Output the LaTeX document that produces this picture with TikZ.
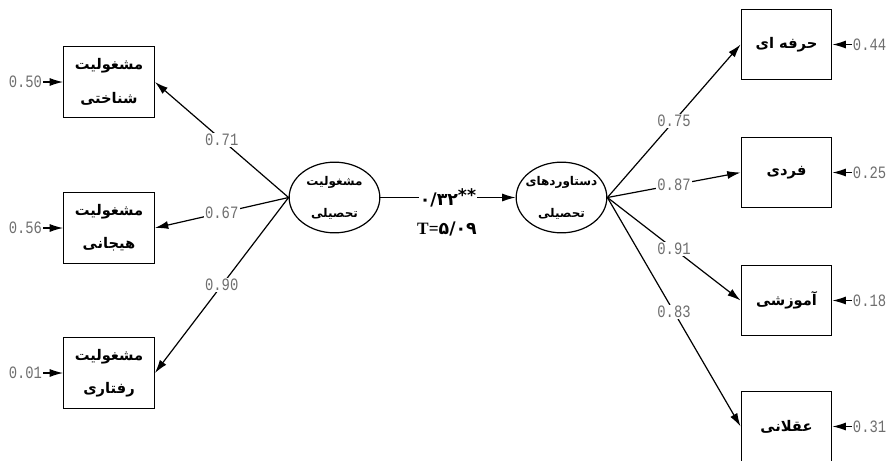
\documentclass[tikz,border=0pt]{standalone}
\usepackage{fontspec}
\usetikzlibrary{arrows.meta,shapes.geometric}
\TeXXeTstate=1
\newfontfamily\arabicfont[Script=Arabic]{DejaVu Sans}
\newfontfamily\labfont[FakeStretch=0.8]{Liberation Mono}
\newfontfamily\serifb{Liberation Serif}
\definecolor{labgray}{RGB}{110,110,110}
\begin{document}
\begin{tikzpicture}[x=0.75pt,y=-0.75pt,
  obs/.style={draw, line width=0.9pt, minimum width=68pt, minimum height=53pt, inner sep=0pt, align=center,
    font=\arabicfont\bfseries\fontsize{11}{25}\selectfont},
  lat/.style={draw, ellipse, line width=0.9pt, minimum width=68pt, minimum height=53pt, inner sep=0pt},
  lattext/.style={inner sep=0pt, align=center, font=\arabicfont\bfseries\fontsize{9}{24}\selectfont},
  path/.style={line width=0.9pt, -{Latex[length=10pt,width=6pt]}},
  coef/.style={fill=white, inner sep=1pt, text=labgray, font=\labfont\fontsize{13}{14}\selectfont},
  err/.style={inner sep=0.5pt, text=labgray, font=\labfont\fontsize{13}{14}\selectfont}]
\useasboundingbox (0,0) rectangle (890,461);

% latent variables
\node[lat] (eL) at (334.5,197.5) {};
\node[lattext] (eLt) at (eL) {\beginR مشغولیت\endR\\\beginR تحصیلی\endR};
\node[lat] (eR) at (561.5,197.5) {};
\node[lattext] (eRt) at (eR) {\beginR دستاوردهای\endR\\\beginR تحصیلی\endR};

% left observed
\node[obs] (b1) at (109,82)  {\beginR مشغولیت\endR\\\beginR شناختی\endR};
\node[obs] (b2) at (109,228) {\beginR مشغولیت\endR\\\beginR هیجانی\endR};
\node[obs] (b3) at (109,373) {\beginR مشغولیت\endR\\\beginR رفتاری\endR};

% right observed
\node[obs] (r1) at (786.5,44.5)  {\beginR حرفه ای\endR};
\node[obs] (r2) at (786.5,172.5) {\beginR فردی\endR};
\node[obs] (r3) at (786.5,300.5) {\beginR آموزشی\endR};
\node[obs] (r4) at (786.5,426.5) {\beginR عقلانی\endR};

% error terms
\node[err, anchor=east] (d1) at (43,82)  {0.50};
\node[err, anchor=east] (d2) at (43,228) {0.56};
\node[err, anchor=east] (d3) at (43,373) {0.01};
\node[err, anchor=west] (f1) at (852,44.5)  {0.44};
\node[err, anchor=west] (f2) at (852,172.5) {0.25};
\node[err, anchor=west] (f3) at (852,300.5) {0.18};
\node[err, anchor=west] (f4) at (852,426.5) {0.31};

\foreach \a/\b in {d1/b1,d2/b2,d3/b3,f1/r1,f2/r2,f3/r3,f4/r4}
  \draw[path] (\a) -- (\b);

% loadings
\draw[path] (eL.west) -- node[coef] {0.71} (b1.east);
\draw[path] (eL.west) -- node[coef] {0.67} (b2.east);
\draw[path] (eL.west) -- node[coef] {0.90} (b3.east);
\draw[path] (eR.east) -- node[coef] {0.75} (r1.west);
\draw[path] (eR.east) -- node[coef] {0.87} (r2.west);
\draw[path] (eR.east) -- node[coef] {0.91} (r3.west);
\draw[path] (eR.east) -- node[coef] {0.83} (r4.west);

% structural path
\draw[path] (eL.east) -- node[fill=white, inner sep=1pt, font=\arabicfont\bfseries\fontsize{13}{14}\selectfont] (c) {۰/۳۲\raisebox{0.4ex}{**}} (eR.west);
\node[font=\bfseries\fontsize{13}{14}\selectfont] (t) at (447,229) {\serifb T=\arabicfont ۵/۰۹};
\end{tikzpicture}
\end{document}
